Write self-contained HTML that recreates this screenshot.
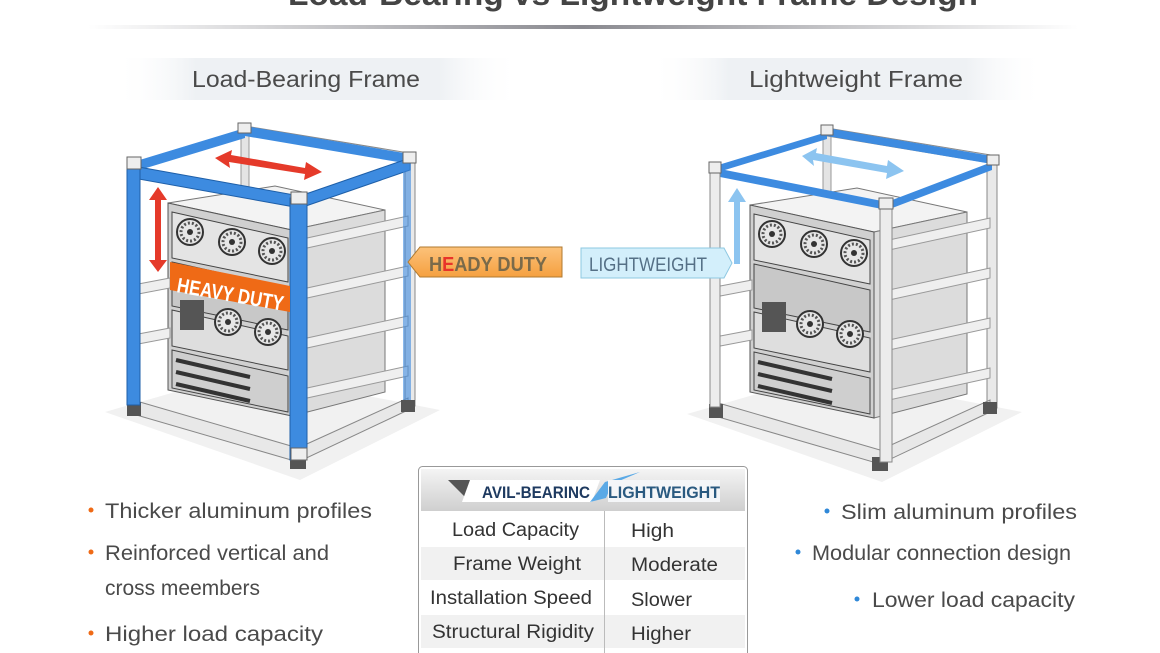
<!DOCTYPE html>
<html><head><meta charset="utf-8"><style>
html,body{margin:0;padding:0;background:#fff;width:1160px;height:653px;overflow:hidden}
svg{display:block}
text{font-family:"Liberation Sans",sans-serif}
</style></head><body>
<svg width="1160" height="653" viewBox="0 0 1160 653" xmlns="http://www.w3.org/2000/svg">
<defs>
<linearGradient id="rule" x1="0" x2="1"><stop offset="0" stop-color="#fff"/><stop offset="0.5" stop-color="#8a8a90"/><stop offset="1" stop-color="#fff"/></linearGradient>
<linearGradient id="hdr" x1="0" x2="1"><stop offset="0" stop-color="#fff" stop-opacity="0"/><stop offset="0.2" stop-color="#eef1f4"/><stop offset="0.8" stop-color="#eef1f4"/><stop offset="1" stop-color="#fff" stop-opacity="0"/></linearGradient>
<linearGradient id="th" x1="0" y1="0" x2="0" y2="1"><stop offset="0" stop-color="#f4f4f4"/><stop offset="1" stop-color="#cfcfcf"/></linearGradient>
<linearGradient id="og" x1="0" y1="0" x2="0" y2="1"><stop offset="0" stop-color="#fcc27a"/><stop offset="1" stop-color="#f5a040"/></linearGradient>
<g id="fan"><circle r="13" fill="#e6e6e6" stroke="#333" stroke-width="2"/><circle r="9" fill="none" stroke="#555" stroke-width="3" stroke-dasharray="2 2"/><circle r="3" fill="#333"/></g>
<g id="rack">
 <!-- floor -->
 <polygon points="105,412 245,372 440,410 300,480" fill="#f1f1f1"/>
 <!-- back posts -->
 <rect x="241" y="128" width="8" height="250" fill="#e4e4e4" stroke="#999"/>
 <rect x="405" y="156" width="10" height="250" fill="#e9e9e9" stroke="#888"/>
 <!-- equipment -->
 <polygon points="168,203 275,186 385,210 292,230" fill="#f3f3f3" stroke="#777"/>
 <polygon points="292,230 385,210 385,392 292,416" fill="#dcdcdc" stroke="#777"/>
 <polygon points="168,203 292,230 292,416 168,390" fill="#d0d0d0" stroke="#555"/>
 <polygon points="172,212 288,238 288,282 172,258" fill="#e4e4e4" stroke="#444"/>
 <use href="#fan" x="190" y="232"/><use href="#fan" x="232" y="242"/><use href="#fan" x="272" y="251"/>
 <polygon points="172,262 288,288 288,330 172,306" fill="#c8c8c8" stroke="#444"/>
 <polygon points="172,310 288,336 288,370 172,346" fill="#dedede" stroke="#444"/>
 <use href="#fan" x="228" y="322"/><use href="#fan" x="268" y="332"/>
 <rect x="180" y="300" width="24" height="30" fill="#555"/>
 <polygon points="172,350 288,376 288,412 172,388" fill="#cfcfcf" stroke="#444"/>
 <line x1="176" y1="360" x2="250" y2="377" stroke="#333" stroke-width="4"/>
 <line x1="176" y1="372" x2="250" y2="389" stroke="#333" stroke-width="4"/>
 <line x1="176" y1="384" x2="250" y2="401" stroke="#333" stroke-width="4"/>
 <!-- side bars -->
 <g stroke="#999" stroke-width="1" fill="#efefef">
 <polygon points="298,240 408,216 408,226 298,250"/>
 <polygon points="298,290 408,266 408,276 298,300"/>
 <polygon points="298,340 408,316 408,326 298,350"/>
 <polygon points="298,390 408,366 408,376 298,400"/>
 <polygon points="133,285 170,278 170,288 133,295"/>
 <polygon points="133,335 170,328 170,338 133,345"/>
 </g>
 <!-- bottom frame -->
 <polygon points="133,400 298,448 298,462 133,414" fill="#e8e8e8" stroke="#888"/>
 <polygon points="298,448 408,398 408,410 298,462" fill="#e8e8e8" stroke="#888"/>
 <rect x="127" y="402" width="14" height="14" fill="#555"/>
 <rect x="290" y="455" width="16" height="14" fill="#555"/>
 <rect x="401" y="400" width="14" height="12" fill="#555"/>
 <!-- top frame back beams -->
 <polygon points="245,126 415,154 415,162 245,134" fill="#e8e8e8" stroke="#888"/>
</g>
</defs>

<!-- title -->
<text x="633" y="5" font-size="32" font-weight="bold" fill="#444" text-anchor="middle" textLength="690" lengthAdjust="spacingAndGlyphs">Load-Bearing vs Lightweight Frame Design</text>
<rect x="88" y="25" width="990" height="4" fill="url(#rule)"/>

<rect x="115" y="58" width="405" height="42" fill="url(#hdr)"/>
<rect x="650" y="58" width="395" height="42" fill="url(#hdr)"/>
<text x="306" y="87" font-size="23" fill="#4a4a4a" text-anchor="middle" textLength="228" lengthAdjust="spacingAndGlyphs">Load-Bearing Frame</text>
<text x="856" y="87" font-size="23" fill="#4a4a4a" text-anchor="middle" textLength="214" lengthAdjust="spacingAndGlyphs">Lightweight Frame</text>

<!-- LEFT RACK -->
<use href="#rack"/>
<!-- blue beams -->
<polygon points="245,126 410,154 410,164 245,136" fill="#3d8be0"/>
<polygon points="133,162 245,128 245,138 133,172" fill="#3d8be0"/>
<polygon points="133,166 300,196 300,208 133,178" fill="#3d8be0" stroke="#1e5fa8"/>
<polygon points="300,196 410,158 410,170 300,208" fill="#3d8be0" stroke="#1e5fa8"/>
<rect x="127" y="165" width="13" height="240" fill="#3d8be0" stroke="#1e5fa8"/>
<rect x="290" y="198" width="17" height="262" fill="#3d8be0" stroke="#1e5fa8"/>
<rect x="403" y="160" width="8" height="240" fill="#3d8be0" opacity="0.6"/>
<g fill="#eee" stroke="#666"><rect x="127" y="157" width="14" height="12"/><rect x="291" y="192" width="16" height="12"/><rect x="403" y="152" width="13" height="11"/><rect x="238" y="123" width="13" height="10"/><rect x="291" y="448" width="16" height="12"/></g>
<!-- red arrows -->
<polygon points="215,158 232,150 231,155 305,168 306,162 322,172 304,180 305,174 229,162 230,168" fill="#e53a2a"/>
<polygon points="158,187 167,200 161,200 161,260 167,260 158,272 149,260 155,260 155,200 149,200" fill="#e53a2a"/>
<!-- heavy duty label -->
<polygon points="170,262 290,286 290,312 170,290" fill="#ef6a16"/>
<text x="176" y="292" font-size="21" font-weight="bold" fill="#fff" transform="rotate(10 176 292)" textLength="108" lengthAdjust="spacingAndGlyphs">HEAVY DUTY</text>

<!-- RIGHT RACK -->
<g transform="translate(582,2)"><use href="#rack"/>
<polygon points="245,126 410,154 410,162 245,134" fill="#3d8be0"/>
<polygon points="133,164 245,130 245,137 133,171" fill="#3d8be0"/>
<polygon points="133,166 305,200 305,208 133,174" fill="#3d8be0"/>
<polygon points="305,200 410,160 410,168 305,208" fill="#3d8be0"/>
<rect x="128" y="170" width="10" height="235" fill="#ececec" stroke="#888"/>
<rect x="298" y="202" width="12" height="258" fill="#ececec" stroke="#888"/>
<g fill="#eee" stroke="#666"><rect x="127" y="160" width="12" height="11"/><rect x="297" y="196" width="14" height="11"/><rect x="405" y="153" width="12" height="10"/><rect x="239" y="123" width="12" height="10"/></g>
<polygon points="220,154 235,146 234,151 305,164 306,158 322,169 304,177 305,171 231,158 232,164" fill="#8cc4f0"/>
<polygon points="155,186 164,200 158,200 158,262 152,262 152,200 146,200" fill="#8cc4f0"/>
</g>

<!-- tags -->
<polygon points="408,262 420,247 562,247 562,277 420,277" fill="url(#og)" stroke="#b07a30"/>
<text x="429" y="271" font-size="20" font-weight="bold" fill="#7a6a4a" textLength="118" lengthAdjust="spacingAndGlyphs">H<tspan fill="#e8332a">E</tspan>ADY DUTY</text>
<polygon points="581,248 724,248 732,263 724,278 581,278" fill="#d3effb" stroke="#8ec8e2"/>
<text x="589" y="271" font-size="19" fill="#557086" textLength="118" lengthAdjust="spacingAndGlyphs">LIGHTWEIGHT</text>

<!-- left bullets -->
<g font-size="21" fill="#4a4a4a">
<circle cx="91" cy="510" r="2.5" fill="#ef6a16"/><text x="105" y="518" textLength="267" lengthAdjust="spacingAndGlyphs">Thicker aluminum profiles</text>
<circle cx="91" cy="552" r="2.5" fill="#ef6a16"/><text x="105" y="560" textLength="224" lengthAdjust="spacingAndGlyphs">Reinforced vertical and</text>
<text x="105" y="595" textLength="155" lengthAdjust="spacingAndGlyphs">cross meembers</text>
<circle cx="91" cy="633" r="2.5" fill="#ef6a16"/><text x="105" y="641" textLength="218" lengthAdjust="spacingAndGlyphs">Higher load capacity</text>
</g>
<!-- right bullets -->
<g font-size="21" fill="#4a4a4a">
<circle cx="827" cy="511" r="2.5" fill="#2f88d8"/><text x="841" y="519" textLength="236" lengthAdjust="spacingAndGlyphs">Slim aluminum profiles</text>
<circle cx="798" cy="552" r="2.5" fill="#2f88d8"/><text x="812" y="560" textLength="259" lengthAdjust="spacingAndGlyphs">Modular connection design</text>
<circle cx="857" cy="599" r="2.5" fill="#2f88d8"/><text x="872" y="607" textLength="203" lengthAdjust="spacingAndGlyphs">Lower load capacity</text>
</g>

<!-- table -->
<rect x="418.5" y="466.5" width="329" height="190" rx="4" fill="#fff" stroke="#999"/>
<rect x="421" y="469" width="324" height="42" fill="url(#th)"/>
<polygon points="448,480 480,480 470,502" fill="#555"/>
<polygon points="470,480 600,480 592,502 462,502" fill="#fff"/>
<text x="482" y="498" font-size="17" font-weight="bold" fill="#1e3a60" textLength="108" lengthAdjust="spacingAndGlyphs">AVIL-BEARINC</text>
<polygon points="590,502 605,482 640,472 612,484 606,498" fill="#5aa9e6"/>
<rect x="608" y="480" width="112" height="22" fill="#f4f6f8"/>
<text x="608" y="498" font-size="17" font-weight="bold" fill="#2a5a80" textLength="112" lengthAdjust="spacingAndGlyphs">LIGHTWEIGHT</text>
<rect x="421" y="547" width="324" height="33" fill="#f1f1f1"/>
<rect x="421" y="615" width="324" height="33" fill="#f1f1f1"/>
<line x1="604.5" y1="511" x2="604.5" y2="653" stroke="#bbb"/>
<g font-size="19" fill="#333">
<text x="452" y="536" textLength="127" lengthAdjust="spacingAndGlyphs">Load Capacity</text>
<text x="631" y="537" textLength="43" lengthAdjust="spacingAndGlyphs">High</text>
<text x="453" y="570" textLength="128" lengthAdjust="spacingAndGlyphs">Frame Weight</text>
<text x="631" y="571" textLength="87" lengthAdjust="spacingAndGlyphs">Moderate</text>
<text x="430" y="604" textLength="162" lengthAdjust="spacingAndGlyphs">Installation Speed</text>
<text x="631" y="606" textLength="61" lengthAdjust="spacingAndGlyphs">Slower</text>
<text x="432" y="638" textLength="162" lengthAdjust="spacingAndGlyphs">Structural Rigidity</text>
<text x="631" y="640" textLength="60" lengthAdjust="spacingAndGlyphs">Higher</text>
</g>
</svg>
</body></html>
